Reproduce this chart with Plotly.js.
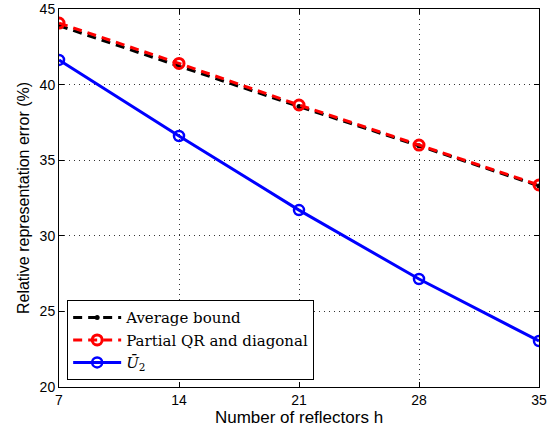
<!DOCTYPE html>
<html><head><meta charset="utf-8">
<script src="https://cdn.plot.ly/plotly-3.0.1.min.js"></script>
<style>html,body{margin:0;padding:0;background:#fff}#c{width:559px;height:430px}</style>
</head><body><div id="c"></div>
<script>
const reflectors = [7, 14, 21, 28, 35];
const averageBound = [43.9, 41.2, 38.55, 35.95, 33.3];
const partialQR = [44.07, 41.4, 38.65, 36.0, 33.36];
const u2 = [41.63, 36.6, 31.7, 27.14, 23.04];
const xTicks = [7, 14, 21, 28, 35];
const yTicks = [20, 25, 30, 35, 40, 45];

const traces = [
  {x: reflectors, y: averageBound, name: 'Average bound', mode: 'lines+markers',
   line: {color: '#000', width: 3, dash: '9px,6px'},
   marker: {symbol: 'circle', size: 5, color: '#000'}},
  {x: reflectors, y: partialQR, name: 'Partial QR and diagonal', mode: 'lines+markers',
   line: {color: '#ff0000', width: 3, dash: '9px,6px'},
   marker: {symbol: 'circle-open', size: 10, color: '#ff0000', line: {width: 3, color: '#ff0000'}}},
  {x: reflectors, y: u2, name: '<i>Ū</i><sub>2</sub>', mode: 'lines+markers',
   line: {color: '#0000ff', width: 3},
   marker: {symbol: 'circle-open', size: 10, color: '#0000ff', line: {width: 2.5, color: '#0000ff'}}}
];

const axisCommon = {
  showline: true, mirror: 'ticks', linecolor: '#000', linewidth: 1,
  ticks: 'inside', ticklen: 5, tickcolor: '#000',
  showgrid: true, gridcolor: '#333', griddash: '1px,4px', gridwidth: 1,
  zeroline: false,
  tickfont: {family: 'Liberation Sans, Arial, sans-serif', size: 14, color: '#000'}
};

const layout = {
  width: 559, height: 430,
  margin: {l: 59, r: 20, t: 9, b: 43},
  paper_bgcolor: '#fff', plot_bgcolor: '#fff',
  showlegend: true,
  legend: {x: 0.017, y: 0.018, xanchor: 'left', yanchor: 'bottom',
    bgcolor: '#fff', bordercolor: '#000', borderwidth: 1,
    font: {family: 'DejaVu Serif, Liberation Serif, serif', size: 15, color: '#000'},
    tracegroupgap: 0, itemwidth: 48},
  xaxis: Object.assign({}, axisCommon, {
    range: [7, 35], tickvals: xTicks, ticktext: xTicks.map(String),
    title: {text: 'Number of reflectors h', standoff: 3,
      font: {family: 'Liberation Sans, Arial, sans-serif', size: 17, color: '#000'}}
  }),
  yaxis: Object.assign({}, axisCommon, {
    range: [20, 45], tickvals: yTicks, ticktext: yTicks.map(String),
    title: {text: 'Relative representation error (%)', standoff: 6,
      font: {family: 'Liberation Sans, Arial, sans-serif', size: 16, color: '#000'}}
  })
};

Plotly.newPlot('c', traces, layout, {displayModeBar: false, staticPlot: true});
</script>
</body></html>
